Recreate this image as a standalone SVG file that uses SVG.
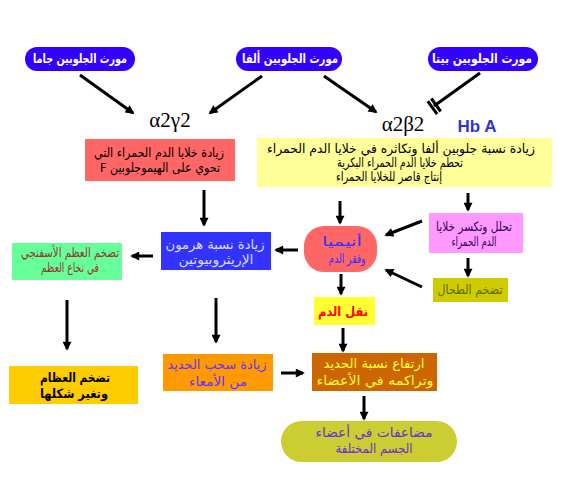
<svg xmlns="http://www.w3.org/2000/svg" width="562" height="487" viewBox="0 0 562 487">
<defs>
<marker id="ah" viewBox="0 0 10 10" refX="8" refY="5" markerWidth="10" markerHeight="9" markerUnits="userSpaceOnUse" orient="auto">
<path d="M0,0 L10,5 L0,10 z" fill="#000"/>
</marker>
<style>
.ar{font-family:"DejaVu Sans","Liberation Sans",sans-serif;font-size:13px;text-anchor:middle;direction:rtl}
.b{font-weight:bold}
.gene{fill:#3300ff}
.c line{stroke:#000;stroke-width:3;marker-end:url(#ah)}
.c line.bar{marker-end:none}
.c line.plain{marker-end:none}
.gr{font-family:"Liberation Serif",serif;font-size:21px;text-anchor:middle;fill:#000}
</style>
</defs>
<rect width="562" height="487" fill="#fff"/>

<g id="gene-gamma"><rect class="gene" x="25" y="47" width="110" height="24" rx="12"/><text class="ar b" x="80" y="63" fill="#fff" font-size="12" textLength="94" lengthAdjust="spacingAndGlyphs">مورث الجلوبين جاما</text></g>
<g id="gene-alpha"><rect class="gene" x="236" y="47" width="106" height="24" rx="12"/><text class="ar b" x="290" y="63" fill="#fff" font-size="12" textLength="96" lengthAdjust="spacingAndGlyphs">مورث الجلوبين ألفا</text></g>
<g id="gene-beta"><rect class="gene" x="428" y="47" width="110" height="24" rx="12"/><text class="ar b" x="482" y="63" fill="#fff" font-size="12" textLength="100" lengthAdjust="spacingAndGlyphs">مورث الجلوبين بيتا</text></g>

<g id="a2g2"><text class="gr" x="170" y="127">α2γ2</text></g>
<g id="a2b2"><text class="gr" x="403" y="131">α2β2</text></g>
<g id="hba"><text x="477" y="132" font-family="Liberation Sans,Arial,sans-serif" font-weight="bold" font-size="17" fill="#3333cc" text-anchor="middle">Hb A</text></g>

<g id="hbf-box"><rect x="85" y="139" width="150" height="42" fill="#ff6666"/>
<text class="ar" x="159" y="157" fill="#000" textLength="130" lengthAdjust="spacingAndGlyphs">زيادة خلايا الدم الحمراء التي</text>
<text class="ar" x="160" y="172" fill="#000" textLength="120" lengthAdjust="spacingAndGlyphs">تحوي على الهيموجلوبين F</text></g>

<g id="alpha-box"><rect x="257" y="138" width="295" height="49" fill="#ffff99"/>
<text class="ar" x="401" y="153" fill="#000" textLength="268" lengthAdjust="spacingAndGlyphs">زيادة نسبة جلوبين ألفا وتكاثره في خلايا الدم الحمراء</text>
<text class="ar" x="400" y="167" fill="#000" textLength="126" lengthAdjust="spacingAndGlyphs">تحطم خلايا الدم الحمراء البكرية</text>
<text class="ar" x="389" y="181" fill="#000" textLength="106" lengthAdjust="spacingAndGlyphs">إنتاج قاصر للخلايا الحمراء</text></g>

<g id="epo"><rect x="161" y="232" width="110" height="38" fill="#3333ff"/>
<text class="ar" x="215" y="249" fill="#ddddff" textLength="99" lengthAdjust="spacingAndGlyphs">زيادة نسبة هرمون</text>
<text class="ar" x="216" y="264" fill="#ddddff" textLength="75" lengthAdjust="spacingAndGlyphs">الإريثروبيوتين</text></g>

<g id="marrow"><rect x="12" y="243" width="110" height="37" fill="#66ff99"/>
<text class="ar" x="70" y="257" fill="#993333" font-size="12" textLength="98" lengthAdjust="spacingAndGlyphs">تضخم العظم الأسفنجي</text>
<text class="ar" x="70" y="272" fill="#993333" font-size="12" textLength="58" lengthAdjust="spacingAndGlyphs">في نخاع العظم</text></g>

<g id="anemia"><rect x="304" y="226" width="73" height="46" rx="20" fill="#ff6666"/>
<text class="ar" x="342" y="246" fill="#3333ff" font-size="17" textLength="40" lengthAdjust="spacingAndGlyphs">أنيميا</text>
<text class="ar" x="347" y="263" fill="#3333ff" font-size="12" textLength="37" lengthAdjust="spacingAndGlyphs">وفقر الدم</text></g>

<g id="hemolysis"><rect x="429" y="213" width="94" height="40" fill="#ff99ff"/>
<text class="ar" x="474" y="231" fill="#330066" font-size="12" textLength="76" lengthAdjust="spacingAndGlyphs">تحلل وتكسر خلايا</text>
<text class="ar" x="474" y="246" fill="#330066" font-size="12" textLength="45" lengthAdjust="spacingAndGlyphs">الدم الحمراء</text></g>

<g id="spleen"><rect x="433" y="278" width="75" height="24" fill="#cccc00"/>
<text class="ar" x="470" y="294" fill="#666600" font-size="12" textLength="65" lengthAdjust="spacingAndGlyphs">تضخم الطحال</text></g>

<g id="transfusion"><rect x="314" y="297" width="61" height="28" fill="#ffff33"/>
<text class="ar b" x="343" y="316" fill="#ff0000" font-size="14" textLength="50" lengthAdjust="spacingAndGlyphs">نقل الدم</text></g>

<g id="bones"><rect x="9" y="366" width="129" height="38" fill="#ffcc00"/>
<text class="ar b" x="75" y="382" fill="#000" font-size="14" textLength="70" lengthAdjust="spacingAndGlyphs">تضخم العظام</text>
<text class="ar b" x="74" y="398" fill="#000" font-size="14" textLength="68" lengthAdjust="spacingAndGlyphs">وتغير شكلها</text></g>

<g id="iron-gut"><rect x="163" y="354" width="110" height="37" fill="#ff9900"/>
<text class="ar" x="217" y="369" fill="#6633ff" textLength="99" lengthAdjust="spacingAndGlyphs">زيادة سحب الحديد</text>
<text class="ar" x="218" y="386" fill="#6633ff" textLength="58" lengthAdjust="spacingAndGlyphs">من الأمعاء</text></g>

<g id="iron-load"><rect x="312" y="353" width="125" height="38" fill="#cc6600"/>
<text class="ar" x="374" y="368" fill="#ffff33" textLength="101" lengthAdjust="spacingAndGlyphs">ارتفاع نسبة الحديد</text>
<text class="ar" x="375" y="385" fill="#ffff33" textLength="117" lengthAdjust="spacingAndGlyphs">وتراكمه في الأعضاء</text></g>

<g id="complications"><rect x="281" y="421" width="176" height="41" rx="20.5" fill="#cccc33"/>
<text class="ar" x="374" y="437" fill="#6633cc" textLength="117" lengthAdjust="spacingAndGlyphs">مضاعفات في أعضاء</text>
<text class="ar" x="374" y="453" fill="#6633cc" textLength="77" lengthAdjust="spacingAndGlyphs">الجسم المختلفة</text></g>

<g id="connectors" class="c">
<line x1="80" y1="75" x2="133" y2="113"/>
<line x1="262" y1="76" x2="210" y2="113"/>
<line x1="324" y1="76" x2="376" y2="112"/>
<line class="plain" x1="480" y1="73" x2="434" y2="106"/>
<line class="bar" x1="440.7" y1="111.5" x2="431.3" y2="98.5"/>
<line class="bar" x1="437.1" y1="114.1" x2="427.7" y2="101.1"/>
<line x1="204" y1="190" x2="204" y2="225"/>
<line x1="468" y1="193" x2="468" y2="210"/>
<line x1="340" y1="201" x2="340" y2="223"/>
<line x1="153" y1="256" x2="132" y2="256"/>
<line x1="298" y1="250" x2="276" y2="250"/>
<line x1="422" y1="221" x2="386" y2="235"/>
<line x1="468" y1="258" x2="468" y2="276"/>
<line x1="422" y1="287" x2="386" y2="270"/>
<line x1="341" y1="274" x2="341" y2="294"/>
<line x1="216" y1="298" x2="216" y2="342"/>
<line x1="67" y1="300" x2="67" y2="349"/>
<line x1="343" y1="328" x2="343" y2="351"/>
<line x1="281" y1="373" x2="303" y2="373"/>
<line x1="364" y1="396" x2="364" y2="419"/>
</g>
</svg>
